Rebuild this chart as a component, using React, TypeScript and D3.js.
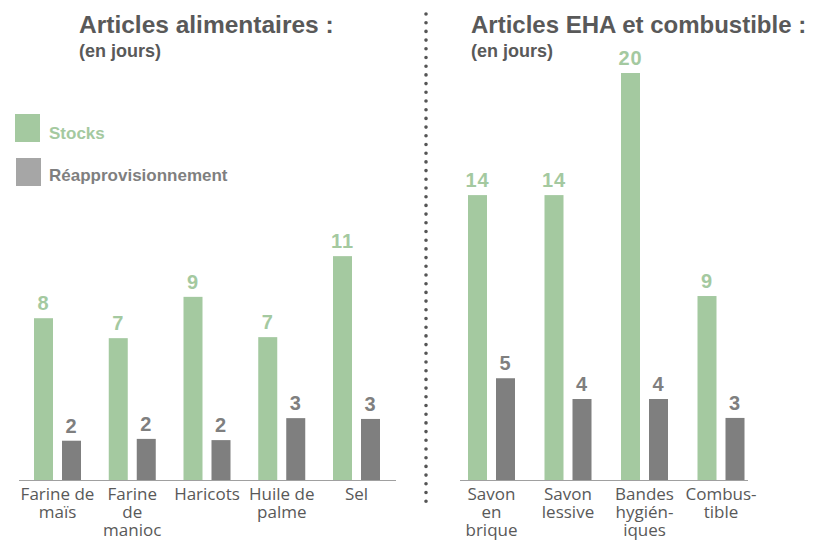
import React from "react";
import * as d3 from "d3";

const foodCategories = ["Farine de maïs", "Farine de manioc", "Haricots", "Huile de palme", "Sel"];
const foodLabelLines = [["Farine de", "maïs"], ["Farine", "de", "manioc"], ["Haricots"], ["Huile de", "palme"], ["Sel"]];
const foodStocks = [7.95, 6.97, 9.0, 7.02, 11.0];
const foodResupply = [1.93, 2.02, 1.96, 3.04, 3.0];

const ehaCategories = ["Savon en brique", "Savon lessive", "Bandes hygiéniques", "Combustible"];
const ehaLabelLines = [["Savon", "en", "brique"], ["Savon", "lessive"], ["Bandes", "hygién-", "iques"], ["Combus-", "tible"]];
const ehaStocks = [14.0, 14.0, 20.0, 9.04];
const ehaResupply = [5.0, 3.98, 3.98, 3.05];

const seriesNames = ["Stocks", "Réapprovisionnement"];
const titles = ["Articles alimentaires :", "Articles EHA et combustible :"];
const subtitle = "(en jours)";

const GREEN = "#a4c9a0";
const GREY = "#7f7f7f";
const LEGEND_GREY = "#a6a6a6";
const TEXT = "#595959";

const W = 816;
const H = 541;
const baseline = 480;

const y = d3.scaleLinear().domain([0, 20]).range([baseline, baseline - 407]);
const inner = d3.scaleBand<string>().domain(seriesNames).range([-23.5, 23.5]).paddingInner(9 / 28).paddingOuter(0);

type PanelProps = {
  categories: string[];
  lines: string[][];
  stocks: number[];
  resupply: number[];
  range: [number, number];
  axis: [number, number];
};

function Panel({ categories, lines, stocks, resupply, range, axis }: PanelProps) {
  const x = d3.scalePoint<string>().domain(categories).range(range).padding(0);
  const series = [stocks, resupply];
  const colors = [GREEN, GREY];
  return (
    <g>
      {categories.map((c, i) => (
        <g key={c} transform={`translate(${x(c)},0)`}>
          {series.map((vals, s) => {
            const bx = inner(seriesNames[s])!;
            const top = y(vals[i]);
            return (
              <g key={s}>
                <rect x={bx} y={top} width={inner.bandwidth()} height={baseline - top} fill={colors[s]} />
                <text
                  x={bx + inner.bandwidth() / 2}
                  y={top - 8}
                  textAnchor="middle"
                  fontFamily="'Liberation Sans', Arial, sans-serif"
                  fontWeight="bold"
                  fontSize={20}
                  letterSpacing={1}
                  fill={colors[s]}
                >
                  {Math.round(vals[i])}
                </text>
              </g>
            );
          })}
          <text
            textAnchor="middle"
            fontFamily="'Open Sans', sans-serif"
            fontSize={17}
            fill={TEXT}
          >
            {lines[i].map((l, k) => (
              <tspan key={k} x={0} y={500 + k * 17.8}>
                {l}
              </tspan>
            ))}
          </text>
        </g>
      ))}
      <line x1={axis[0]} x2={axis[1]} y1={baseline + 0.5} y2={baseline + 0.5} stroke="#a0a0a0" strokeWidth={1} />
    </g>
  );
}

export default function App() {
  const titleFont = "'Liberation Sans', Arial, sans-serif";
  return (
    <svg width={W} height={H} style={{ position: "absolute", left: 0, top: 0, background: "#fff" }}>
      <text x={79} y={33} fontFamily={titleFont} fontWeight="bold" fontSize={24.5} fill={TEXT}>
        {titles[0]}
      </text>
      <text x={79} y={57} fontFamily={titleFont} fontWeight="bold" fontSize={18} fill={TEXT}>
        {subtitle}
      </text>
      <text x={471} y={33} fontFamily={titleFont} fontWeight="bold" fontSize={24} fill={TEXT}>
        {titles[1]}
      </text>
      <text x={471} y={57} fontFamily={titleFont} fontWeight="bold" fontSize={18} fill={TEXT}>
        {subtitle}
      </text>

      <rect x={15} y={114} width={25} height={28} fill={GREEN} />
      <text x={49} y={139} fontFamily={titleFont} fontWeight="bold" fontSize={17} fill={GREEN}>
        {seriesNames[0]}
      </text>
      <rect x={16} y={158} width={25} height={28} fill={LEGEND_GREY} />
      <text x={49} y={181} fontFamily={titleFont} fontWeight="bold" fontSize={17} fill={GREY}>
        {seriesNames[1]}
      </text>

      <line
        x1={426}
        x2={426}
        y1={14}
        y2={508}
        stroke="#555"
        strokeWidth={3.6}
        strokeLinecap="round"
        strokeDasharray="0 8.7"
      />

      <Panel
        categories={foodCategories}
        lines={foodLabelLines}
        stocks={foodStocks}
        resupply={foodResupply}
        range={[57.5, 356.5]}
        axis={[19, 396]}
      />
      <Panel
        categories={ehaCategories}
        lines={ehaLabelLines}
        stocks={ehaStocks}
        resupply={ehaResupply}
        range={[491.5, 721]}
        axis={[460, 748]}
      />
    </svg>
  );
}
